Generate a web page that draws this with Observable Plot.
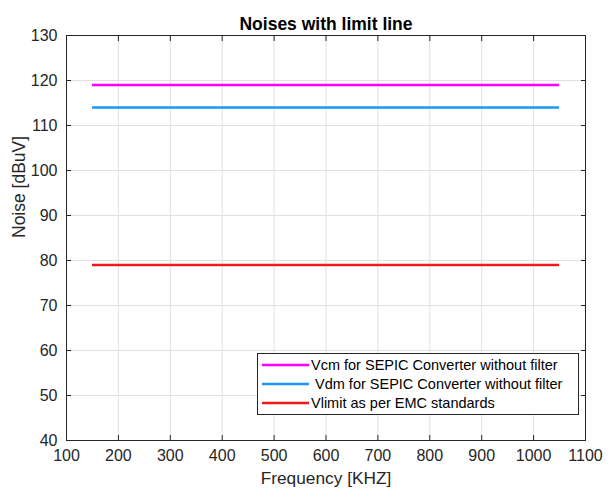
<!DOCTYPE html>
<html><head><meta charset="utf-8">
<script src="https://cdn.jsdelivr.net/npm/d3@7"></script>
<script src="https://cdn.jsdelivr.net/npm/@observablehq/plot@0.6"></script>
<style>
body{margin:0;background:#fff;font-family:"Liberation Sans",Arial,sans-serif;}
#wrap{position:relative;width:608px;height:489px;}
#legend{position:absolute;left:257px;top:353px;width:322px;height:62px;border:1px solid #262626;background:#fff;font-size:14.5px;color:#000;box-sizing:border-box;}
#legend .row{position:absolute;left:4px;height:18px;display:flex;align-items:center;white-space:pre;line-height:18px;}
#legend svg{margin-right:2px;}
</style></head>
<body><div id="wrap"></div>
<script>
const title = "Noises with limit line";
const xLabel = "Frequency [KHZ]";
const yLabel = "Noise [dBuV]";
const seriesNames = ["Vcm for SEPIC Converter without filter", " Vdm for SEPIC Converter without filter", "Vlimit as per EMC standards"];
const seriesColors = ["#ff00ff", "#1a96ff", "#ef1a1a"];
const freqStart = [150, 150, 150];
const freqEnd = [1050, 1050, 1050];
const noiseLevel = [119, 114, 79];
const xTicks = [100,200,300,400,500,600,700,800,900,1000,1100];
const yTicks = [40,50,60,70,80,90,100,110,120,130];

const segs = seriesNames.map((n,i)=>({name:n, x1:freqStart[i], x2:freqEnd[i], y:noiseLevel[i], color:seriesColors[i]}));
const ink = "#262626";
const fmt = d => String(d);
const chart = Plot.plot({
  width:608, height:489,
  marginLeft:66, marginRight:23, marginTop:35, marginBottom:49,
  style:{fontFamily:"'Liberation Sans', Arial, sans-serif", fontSize:"16px", color:ink, background:"#fff"},
  x:{domain:[100,1100]}, y:{domain:[40,130]},
  marks:[
    Plot.gridX(xTicks,{stroke:"#e0e0e0", strokeOpacity:1}),
    Plot.gridY(yTicks,{stroke:"#e0e0e0", strokeOpacity:1}),
    Plot.axisX(xTicks,{anchor:"bottom", tickSize:-5, tickPadding:14, fontSize:16, label:null, stroke:ink, tickFormat:fmt}),
    Plot.axisX(xTicks,{anchor:"top", tickSize:-5, text:null, label:null, stroke:ink}),
    Plot.axisY(yTicks,{anchor:"left", tickSize:-5, tickPadding:14, fontSize:16, label:null, stroke:ink, tickFormat:fmt}),
    Plot.axisY(yTicks,{anchor:"right", tickSize:-5, text:null, label:null, stroke:ink}),
    Plot.frame({stroke:ink, strokeOpacity:1}),
    Plot.ruleY(segs,{x1:"x1", x2:"x2", y:"y", stroke:"color", strokeWidth:2.6}),
    Plot.text([title],{frameAnchor:"top", dy:-18, fontWeight:"bold", fontSize:17.5, fill:"#000"}),
    Plot.text([xLabel],{frameAnchor:"bottom", dy:43, fontSize:17.3, fill:ink}),
    Plot.text([yLabel],{frameAnchor:"left", dx:-47, rotate:-90, fontSize:17.5, fill:ink})
  ]
});
const wrap = document.getElementById("wrap");
wrap.appendChild(chart);
const lg = document.createElement("div"); lg.id="legend";
seriesNames.forEach((n,i)=>{
  const r=document.createElement("div"); r.className="row"; r.style.top=(2+i*19)+"px";
  r.innerHTML=`<svg width="47" height="4"><line x1="0" x2="47" y1="2" y2="2" stroke="${seriesColors[i]}" stroke-width="2.6"/></svg>`;
  r.appendChild(document.createTextNode(n));
  lg.appendChild(r);
});
wrap.appendChild(lg);
</script></body></html>
